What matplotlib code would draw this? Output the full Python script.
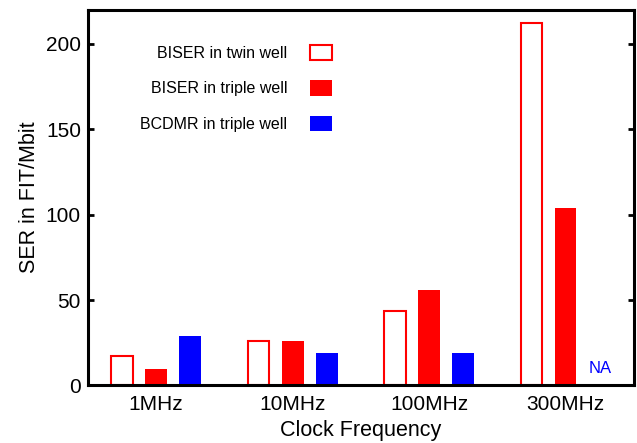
import matplotlib
matplotlib.use("Agg")
import matplotlib.pyplot as plt
import numpy as np

plt.rcParams["font.family"] = ["Liberation Sans", "DejaVu Sans"]

frequencies = ["1MHz", "10MHz", "100MHz", "300MHz"]
biser_twin = [17.5, 25.8, 43.5, 212.0]
biser_triple = [9.5, 26.3, 55.8, 104.0]
bcdmr_triple = [28.8, 18.8, 18.8, None]  # NA at 300MHz

x = np.arange(len(frequencies))
width = 0.16
offset = 0.25

fig = plt.figure(figsize=(6.37, 4.43), dpi=100)
ax = fig.add_axes([0.138, 0.13, 0.857, 0.848])

ax.bar(x - offset, biser_twin, width, facecolor="white", edgecolor="red",
       linewidth=1.5, label="BISER in twin well")
ax.bar(x, biser_triple, width, color="red", label="BISER in triple well")
blue_x = [xi + offset for xi, v in zip(x, bcdmr_triple) if v is not None]
blue_v = [v for v in bcdmr_triple if v is not None]
ax.bar(blue_x, blue_v, width, color="blue", label="BCDMR in triple well")
for xi, v in zip(x, bcdmr_triple):
    if v is None:
        ax.text(xi + offset, 10, "NA", color="blue", ha="center", va="center", fontsize=12)

ax.set_xlim(-0.5, 3.5)
ax.set_ylim(0, 220)
ax.set_xticks(x)
ax.set_xticklabels(frequencies)
ax.set_yticks([0, 50, 100, 150, 200])
ax.tick_params(axis="both", labelsize=15, direction="in", length=4, width=2,
               right=True, top=False)
ax.tick_params(axis="x", length=0, pad=7)
ax.tick_params(axis="y", pad=5)
for spine in ax.spines.values():
    spine.set_linewidth(2.2)
ax.set_xlabel("Clock Frequency", fontsize=15.5, labelpad=4)
ax.set_ylabel("SER in FIT/Mbit", fontsize=15.5, labelpad=4)

ax.legend(loc="upper right", bbox_to_anchor=(0.474, 0.945), frameon=False,
          markerfirst=False, fontsize=11.5, handlelength=1.38, handleheight=1.13,
          labelspacing=1.2, handletextpad=1.44)

fig.savefig("out.png", dpi=100)
